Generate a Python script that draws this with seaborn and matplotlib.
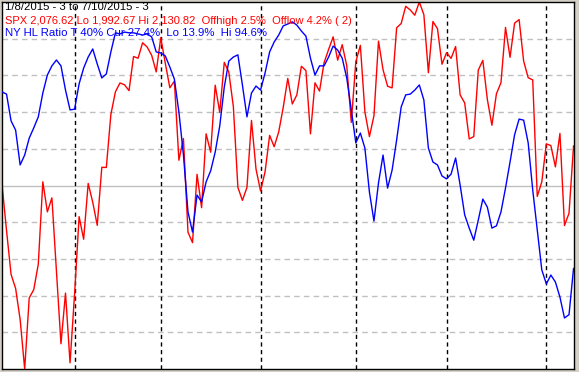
import matplotlib
matplotlib.use("Agg")
import matplotlib.pyplot as plt
import seaborn as sns
import pandas as pd
import numpy as np

# ---- data -------------------------------------------------------------
title_text = "1/8/2015 - 3 to 7/10/2015 - 3"
spx_text = "SPX 2,076.62 Lo 1,992.67 Hi 2,130.82  Offhigh 2.5%  Offlow 4.2% ( 2)"
hl_text = "NY HL Ratio T 40% Cur 27.4%  Lo 13.9%  Hi 94.6%"

spx_lo = 1992.67
spx_hi = 2130.82

# SPX daily closes, 1/8/2015 .. 7/10/2015 (trading days)
spx = [
    2062.14, 2044.81, 2028.26, 2023.03, 2011.27, 1992.67, 2019.42, 2022.55,
    2032.12, 2063.15, 2051.82, 2057.09, 2029.55, 2002.16, 2021.25, 1994.99,
    2020.85, 2050.03, 2041.51, 2062.52, 2055.47, 2046.74, 2068.59, 2068.53,
    2088.48, 2096.99, 2100.34, 2099.68, 2097.45, 2110.30, 2109.66, 2115.48,
    2113.86, 2110.74, 2104.50,
    2117.39, 2107.78, 2098.53, 2101.04, 2071.26, 2079.43, 2044.16, 2040.24,
    2065.95, 2053.40, 2081.19, 2074.28, 2099.50, 2089.27, 2108.10, 2104.42,
    2091.50, 2061.05, 2056.15, 2061.02, 2086.24, 2067.89,
    2059.69, 2066.96, 2080.62, 2076.33, 2081.90, 2091.18, 2102.06, 2092.43,
    2095.84, 2106.63, 2104.99, 2081.18, 2100.40, 2097.29, 2107.96, 2112.93,
    2117.69, 2108.92, 2114.76, 2106.85, 2085.51,
    2108.29, 2114.49, 2089.46, 2080.15, 2088.00, 2116.10, 2105.33, 2099.12,
    2098.48, 2121.10, 2122.73, 2129.20, 2127.83, 2125.85, 2130.82, 2126.06,
    2104.20, 2123.48, 2120.79, 2107.39,
    2111.73, 2109.60, 2114.07, 2095.84, 2092.83, 2079.28, 2080.15, 2105.20,
    2108.86, 2094.11, 2084.43, 2096.29, 2100.44, 2121.24, 2109.99, 2122.85,
    2124.20, 2108.58, 2102.31, 2101.49, 2057.64, 2063.11,
    2077.42, 2076.78, 2068.76, 2081.34, 2046.68, 2051.31, 2076.62,
]

# NY new-high / new-low ratio (%)
hl_ratio = [
    75.5, 74.9, 67.6, 65.1, 55.6, 58.3, 62.9, 65.7, 68.7, 75.2,
    80.1, 82.6, 84.2, 82.6, 76.0, 70.6, 70.8, 77.7, 82.0, 85.0,
    87.2, 83.1, 79.3, 80.4, 86.4, 91.6, 91.3, 91.8, 91.6, 91.6,
    91.3, 91.0, 91.3, 90.5, 86.4, 86.1, 85.3, 82.3, 79.0, 70.0,
    58.3, 42.8, 37.3, 47.4, 45.5, 51.0, 54.0, 59.1, 66.2, 76.8,
    83.9, 85.0, 85.6, 77.4, 68.7, 75.2, 77.1, 76.0, 80.7, 86.4,
    89.1, 91.0, 93.5, 94.0, 94.6, 93.7, 92.1, 90.7, 84.7, 80.1,
    82.6, 82.6, 85.0, 88.0, 86.9, 84.7, 79.3, 70.6, 61.6, 64.3,
    60.2, 48.2, 40.3, 50.7, 58.3, 49.3, 54.2, 62.4, 71.4, 74.7,
    74.9, 76.0, 77.4, 73.3, 60.2, 56.4, 55.6, 52.6, 51.8, 53.1,
    57.5, 50.1, 42.0, 38.4, 35.1, 40.6, 46.3, 44.1, 38.4, 39.0,
    42.8, 49.3, 56.4, 63.8, 68.1, 67.8, 61.6, 48.8, 37.9, 27.0,
    23.2, 25.6, 23.7, 19.6, 13.9, 14.8, 27.4,
]

# first trading day of each month (index into the series)
month_starts = [16, 35, 57, 78, 98, 120]

# ---- figure -----------------------------------------------------------
W, H = 579, 372
fig = plt.figure(figsize=(W / 100, H / 100), dpi=100, facecolor="#d4d0c8")
ax = fig.add_axes([2 / W, 3 / H, 572 / W, 367 / H])
ax.set_facecolor("white")

n = len(spx)
df = pd.DataFrame({"day": np.arange(n), "spx": spx, "hl": hl_ratio})

# horizontal grid: 10 bands, middle one solid
for k in range(1, 10):
    yv = spx_lo + k * (spx_hi - spx_lo) / 10
    if k == 5:
        ax.axhline(yv, color="#c0c0c0", lw=1.0, ls="-", zorder=0.5)
    else:
        ax.axhline(yv, color="#c0c0c0", lw=1.0, ls=(0, (4, 3)), zorder=0.5)
for m in month_starts:
    ax.axvline(m, color="black", lw=1.0, ls=(0, (3, 2.5)), zorder=0.6)

sns.lineplot(data=df, x="day", y="spx", ax=ax, color="#ff0000", lw=1.0,
             zorder=2)
ax.set_ylim(spx_lo, spx_hi)
ax.set_xlim(0, n - 0.9)

ax2 = ax.twinx()
sns.lineplot(data=df, x="day", y="hl", ax=ax2, color="#0000ff", lw=1.0,
             zorder=3)
ax2.set_ylim(0, 100)
ax2.set_xlim(0, n - 0.9)

for a in (ax, ax2):
    a.set_xticks([])
    a.set_yticks([])
    a.set_xlabel("")
    a.set_ylabel("")
for s in ax2.spines.values():
    s.set_visible(False)
for s in ax.spines.values():
    s.set_color("black")
    s.set_linewidth(1.0)

fam = ["Liberation Sans", "DejaVu Sans"]
fs = 8.0
fig.text(5 / W, 1 - 7.5 / H, title_text, color="black", fontsize=fs + 0.2,
         family=fam, va="center", ha="left")
fig.text(5 / W, 1 - 21.5 / H, spx_text, color="#ff0000", fontsize=fs,
         family=fam, va="center", ha="left")
fig.text(5 / W, 1 - 33.5 / H, hl_text, color="#0000ff", fontsize=fs + 0.2,
         family=fam, va="center", ha="left")

fig.savefig("out.png", dpi=100, facecolor=fig.get_facecolor())
